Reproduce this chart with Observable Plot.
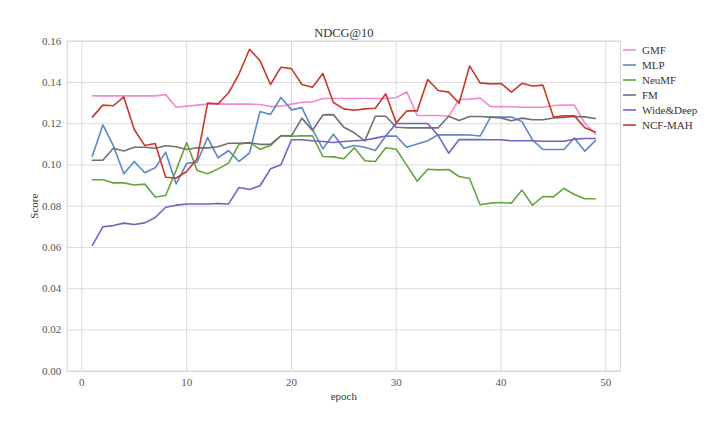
<!DOCTYPE html>
<html>
<head>
<meta charset="utf-8">
<script src="https://cdn.jsdelivr.net/npm/d3@7"></script>
<script src="https://cdn.jsdelivr.net/npm/@observablehq/plot@0.6"></script>
<style>
  html, body { margin: 0; padding: 0; background: #fff; }
  #wrap { position: relative; width: 714px; height: 436px; font-family: "Liberation Serif", "Times New Roman", serif; }
  #chart { position: absolute; left: 0; top: 0; }
  #chart svg text { font-family: "Liberation Serif", "Times New Roman", serif; }
  #legend { position: absolute; left: 623px; top: 42px; font-size: 11px; color: #333; }
  .row { display: flex; align-items: center; height: 15px; }
  .row svg { margin-right: 6px; }
</style>
</head>
<body>
<div id="wrap">
  <div id="chart"></div>
  <div id="legend"></div>
</div>
<script>
const models = ["GMF", "MLP", "NeuMF", "FM", "Wide&Deep", "NCF-MAH"];
const colors = ["#f08ad4", "#5b87c6", "#64a43c", "#707070", "#7262c0", "#c9382b"];
const epochs = d3.range(1, 50);
const xTicks = [0, 10, 20, 30, 40, 50];
const yTicks = [0, 0.02, 0.04, 0.06, 0.08, 0.10, 0.12, 0.14, 0.16];

const GMF = [0.1335,0.1335,0.1335,0.1335,0.1335,0.1335,0.1335,0.1341,0.128,0.1285,0.129,0.1295,0.1296,0.1295,0.1295,0.1295,0.1293,0.1283,0.1285,0.1295,0.1304,0.1306,0.1322,0.1322,0.1322,0.1322,0.1322,0.1322,0.1322,0.1327,0.1354,0.124,0.124,0.124,0.1236,0.1317,0.1319,0.1324,0.1283,0.1283,0.1282,0.128,0.128,0.128,0.1288,0.1291,0.129,0.1203,0.1149];
const MLP = [0.1043,0.1194,0.1094,0.0957,0.1017,0.0962,0.0986,0.1062,0.0908,0.1008,0.1013,0.1133,0.1034,0.107,0.1017,0.1059,0.1259,0.1245,0.1327,0.1267,0.1278,0.1172,0.1078,0.1149,0.1081,0.1094,0.1086,0.107,0.114,0.114,0.1086,0.1102,0.1117,0.1146,0.1146,0.1146,0.1145,0.114,0.1232,0.1232,0.1232,0.121,0.1122,0.1075,0.1075,0.1075,0.1131,0.1067,0.1118];
const NeuMF = [0.0928,0.0928,0.0913,0.0913,0.0903,0.0907,0.0845,0.0852,0.0975,0.1109,0.0973,0.0957,0.0981,0.1009,0.1101,0.1109,0.1076,0.1094,0.1143,0.1139,0.1141,0.1141,0.1041,0.1039,0.103,0.1083,0.102,0.1017,0.1083,0.1076,0.0999,0.0921,0.0979,0.0976,0.0978,0.0944,0.0934,0.0807,0.0815,0.0818,0.0815,0.0878,0.0805,0.0847,0.0845,0.0886,0.0857,0.0836,0.0836];
const FM = [0.1023,0.1023,0.1081,0.1068,0.1086,0.1086,0.1081,0.1093,0.1088,0.1075,0.1083,0.1083,0.1088,0.1105,0.1105,0.1107,0.11,0.11,0.1141,0.1141,0.1227,0.1167,0.1243,0.1244,0.1183,0.1156,0.1117,0.1236,0.1236,0.1183,0.118,0.118,0.118,0.118,0.1236,0.1215,0.1235,0.1235,0.1232,0.1228,0.1214,0.1227,0.1219,0.1219,0.1228,0.123,0.1235,0.1233,0.1225];
const WideDeep = [0.061,0.070,0.0706,0.0718,0.0711,0.0719,0.0745,0.0795,0.0805,0.0811,0.0811,0.0811,0.0813,0.0811,0.0891,0.0881,0.0899,0.0981,0.1001,0.1122,0.1122,0.1117,0.1114,0.1109,0.1114,0.1117,0.112,0.113,0.114,0.1201,0.1201,0.1201,0.1201,0.1143,0.1057,0.1123,0.1123,0.1123,0.1122,0.1122,0.1117,0.1117,0.1117,0.1115,0.1115,0.1115,0.1125,0.1128,0.1128];
const NCFMAH = [0.1232,0.129,0.1287,0.133,0.1172,0.1094,0.1104,0.094,0.0937,0.0968,0.103,0.130,0.1296,0.135,0.1442,0.1561,0.1506,0.139,0.1474,0.1467,0.139,0.1377,0.1443,0.1303,0.1272,0.1265,0.1272,0.1275,0.1345,0.1204,0.1262,0.1262,0.1414,0.1361,0.1353,0.1299,0.148,0.1398,0.1393,0.1395,0.1353,0.1396,0.1383,0.1387,0.1232,0.1238,0.1238,0.118,0.116];

const seriesValues = [GMF, MLP, NeuMF, FM, WideDeep, NCFMAH];
const rows = [];
models.forEach((m, i) => {
  epochs.forEach((e, j) => rows.push({model: m, epoch: e, score: seriesValues[i][j]}));
});

const serif = '"Liberation Serif", "Times New Roman", serif';
const chart = Plot.plot({
  width: 714,
  height: 436,
  marginLeft: 66.7,
  marginRight: 94,
  marginTop: 40.7,
  marginBottom: 65.3,
  style: {fontFamily: serif, fontSize: "11px", color: "#333", background: "#fff"},
  x: {domain: [-1.4, 51.4]},
  y: {domain: [0, 0.16]},
  color: {domain: models, range: colors},
  marks: [
    Plot.gridX(xTicks, {stroke: "#dadada", strokeOpacity: 1}),
    Plot.gridY(yTicks, {stroke: "#dadada", strokeOpacity: 1}),
    Plot.frame({stroke: "#d4d4d4"}),
    Plot.axisX(xTicks, {tickSize: 0, tickPadding: 7, label: null, fill: "#555", fontFamily: serif, fontSize: 11}),
    Plot.axisY(yTicks, {tickSize: 0, tickPadding: 6, label: null, tickFormat: d3.format(".2f"), fill: "#555", fontFamily: serif, fontSize: 11}),
    Plot.line(rows, {x: "epoch", y: "score", stroke: "model", z: "model", strokeWidth: 1.6}),
    Plot.text(["NDCG@10"], {text: d => d, frameAnchor: "top", dy: -8, lineAnchor: "middle", fontSize: 12.5, fontFamily: serif, fill: "#333"}),
    Plot.text(["epoch"], {text: d => d, frameAnchor: "bottom", dy: 25, lineAnchor: "middle", fontSize: 11, fontFamily: serif, fill: "#333"}),
    Plot.text(["Score"], {text: d => d, frameAnchor: "left", dx: -33, rotate: -90, textAnchor: "middle", lineAnchor: "middle", fontSize: 11, fontFamily: serif, fill: "#333"})
  ]
});
document.getElementById("chart").appendChild(chart);

const legend = d3.select("#legend");
models.forEach((m, i) => {
  const r = legend.append("div").attr("class", "row");
  const s = r.append("svg").attr("width", 13).attr("height", 6);
  s.append("line").attr("x1", 0).attr("x2", 13).attr("y1", 3).attr("y2", 3)
    .attr("stroke", colors[i]).attr("stroke-width", 1.6);
  r.append("span").text(m);
});
</script>
</body>
</html>
